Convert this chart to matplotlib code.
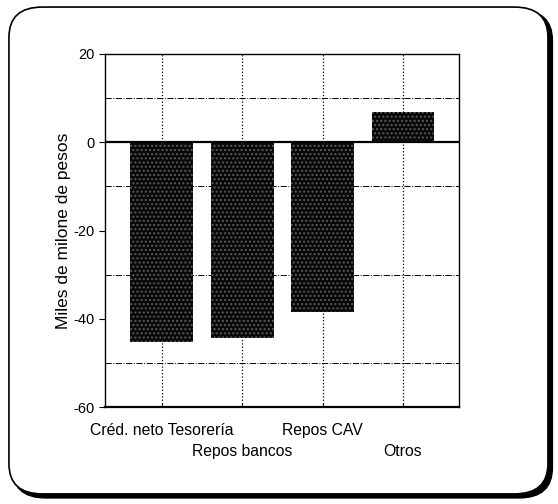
import matplotlib.pyplot as plt
from matplotlib.patches import FancyBboxPatch
from matplotlib.ticker import MultipleLocator

categories = ["Créd. neto Tesorería", "Repos bancos", "Repos CAV", "Otros"]
values = [-45.3, -44.4, -38.5, 6.9]
y_major = [-60, -40, -20, 0, 20]

plt.rcParams['font.family'] = ['Liberation Sans', 'DejaVu Sans']
plt.rcParams['axes.unicode_minus'] = False

fig = plt.figure(figsize=(5.58, 5.04), dpi=100)

# rounded frame with a drop shadow
shadow = FancyBboxPatch((0.022, 0.012), 0.968, 0.968,
                        boxstyle="round,pad=0,rounding_size=0.06",
                        transform=fig.transFigure, facecolor="black",
                        edgecolor="black", lw=1, zorder=0)
frame = FancyBboxPatch((0.016, 0.02), 0.966, 0.966,
                       boxstyle="round,pad=0,rounding_size=0.06",
                       transform=fig.transFigure, facecolor="white",
                       edgecolor="black", lw=1.2, zorder=0.5)
fig.patches.extend([shadow, frame])

ax = fig.add_axes([0.189, 0.192, 0.634, 0.701])
ax.set_zorder(2)
x = list(range(len(categories)))
ax.bar(x, values, width=0.78, color="#080808", edgecolor="#5a5a5a",
       hatch="....", linewidth=0, zorder=2)
ax.axhline(0, color="black", lw=1.6, zorder=3)

ax.set_xlim(-0.7, 3.7)
ax.set_ylim(-60, 20)
ax.set_yticks(y_major)
ax.yaxis.set_minor_locator(MultipleLocator(10))
ax.set_xticks(x)
ax.set_xticklabels([])
ax.grid(which="minor", axis="y", linestyle="-.", color="black", lw=0.7,
        zorder=1)
ax.grid(which="major", axis="x", linestyle=":", color="black", lw=0.9,
        zorder=1)
ax.tick_params(axis="y", which="major", direction="out", length=4,
               labelsize=10.5)
ax.tick_params(axis="y", which="minor", length=0)
ax.tick_params(axis="x", direction="in", length=3)
for s in ax.spines.values():
    s.set_linewidth(1.0)
ax.spines["bottom"].set_linewidth(1.6)

# staggered category labels
for i, lab in enumerate(categories):
    yy = -0.065 if i % 2 == 0 else -0.125
    ax.text(i, yy, lab, transform=ax.get_xaxis_transform(), ha="center",
            va="center", fontsize=11.3)

ax.set_ylabel("Miles de milone de pesos", fontsize=12.5, labelpad=2)

fig.savefig("out.png", dpi=100)
